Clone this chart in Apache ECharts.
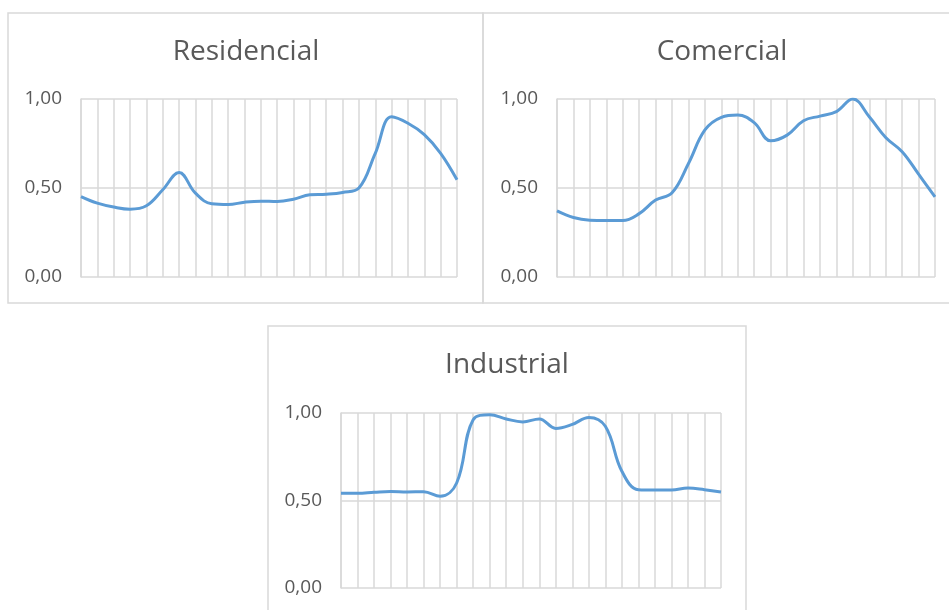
<!DOCTYPE html>
<html>
<head>
<meta charset="utf-8">
<script src="https://cdn.jsdelivr.net/npm/echarts@6/dist/echarts.min.js"></script>
<style>
  html, body { margin: 0; padding: 0; background: #ffffff; }
  #chart { width: 949px; height: 610px; }
</style>
</head>
<body>
<div id="chart"></div>
<script>
// Hourly load profiles (per-unit of daily peak), 24 hours
const hours = Array.from({ length: 24 }, (_, i) => String(i + 1));
const titles = ['Residencial', 'Comercial', 'Industrial'];
const residencial = [0.452, 0.415, 0.393, 0.381, 0.400, 0.490, 0.587, 0.471, 0.411, 0.407, 0.420, 0.426,
                     0.424, 0.437, 0.462, 0.465, 0.475, 0.500, 0.695, 0.900, 0.864, 0.800, 0.695, 0.546];
const comercial = [0.371, 0.334, 0.319, 0.317, 0.317, 0.356, 0.432, 0.473, 0.638, 0.826, 0.897, 0.910,
                   0.867, 0.765, 0.797, 0.878, 0.904, 0.929, 1.000, 0.900, 0.784, 0.704, 0.578, 0.450];
const industrial = [0.541, 0.541, 0.547, 0.552, 0.549, 0.550, 0.524, 0.600, 0.962, 0.990, 0.966, 0.949,
                    0.966, 0.912, 0.935, 0.975, 0.924, 0.667, 0.562, 0.560, 0.560, 0.571, 0.562, 0.549];
const yTicks = [0, 0.5, 1];

const seriesData = [residencial, comercial, industrial];
const grids = [
  { left: 81, top: 99, width: 376, height: 178 },
  { left: 557, top: 99, width: 378, height: 178 },
  { left: 341, top: 413, width: 380, height: 175 }
];
const titlePos = [
  { left: 246, top: 38 },
  { left: 722, top: 38 },
  { left: 507, top: 351 }
];
const frames = [
  { x: 8, y: 13, width: 475, height: 290 },
  { x: 483, y: 13, width: 480, height: 290 },
  { x: 268, y: 326, width: 478, height: 300 }
];

const fontFamily = '"Open Sans", "Noto Sans", sans-serif';
const gridColor = '#d9d9d9';
const textColor = '#595959';

const chart = echarts.init(document.getElementById('chart'), null, { renderer: 'canvas' });

chart.setOption({
  animation: false,
  backgroundColor: '#ffffff',
  graphic: frames.map(f => ({
    type: 'rect',
    shape: f,
    style: { fill: 'none', stroke: gridColor, lineWidth: 1.5 },
    z: -1
  })),
  title: titles.map((t, i) => ({
    text: t,
    left: titlePos[i].left,
    top: titlePos[i].top,
    padding: 0,
    textAlign: 'center',
    textStyle: { fontFamily, fontSize: 28, fontWeight: 'normal', color: textColor }
  })),
  grid: grids,
  xAxis: grids.map((_, i) => ({
    type: 'category',
    gridIndex: i,
    data: hours,
    boundaryGap: false,
    axisLine: { show: false },
    axisTick: { show: false },
    axisLabel: { show: false },
    splitLine: { show: true, interval: 0, lineStyle: { color: gridColor, width: 1.5 } }
  })),
  yAxis: grids.map((_, i) => ({
    type: 'value',
    gridIndex: i,
    min: yTicks[0],
    max: yTicks[yTicks.length - 1],
    interval: 0.5,
    axisLine: { show: true, lineStyle: { color: gridColor, width: 1.5 } },
    axisTick: { show: false },
    axisLabel: {
      margin: 19,
      fontFamily,
      fontSize: 19,
      color: textColor,
      formatter: v => v.toFixed(2).replace('.', ',')
    },
    splitLine: { show: true, lineStyle: { color: gridColor, width: 1.5 } }
  })),
  series: seriesData.map((d, i) => ({
    type: 'line',
    name: titles[i],
    xAxisIndex: i,
    yAxisIndex: i,
    data: d,
    smooth: 0.4,
    showSymbol: false,
    lineStyle: { color: '#5b9bd5', width: 3 },
    itemStyle: { color: '#5b9bd5' }
  }))
});
</script>
</body>
</html>
